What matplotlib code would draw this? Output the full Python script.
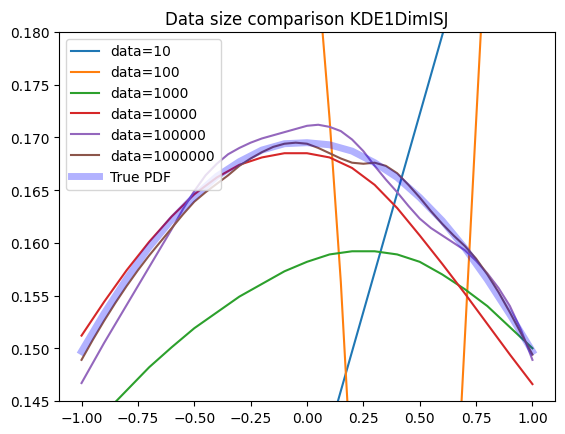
import numpy as np
import matplotlib
matplotlib.use("Agg")
import matplotlib.pyplot as plt

# values
x_tenth = [-1.0, -0.9, -0.8, -0.7, -0.6, -0.5, -0.4, -0.3, -0.2, -0.1, 0.0,
           0.1, 0.2, 0.3, 0.4, 0.5, 0.6, 0.7, 0.8, 0.9, 1.0]
x_half_tenth = [-1.00, -0.95, -0.90, -0.85, -0.80, -0.75, -0.70, -0.65, -0.60, -0.55, -0.50,
                -0.45, -0.40, -0.35, -0.30, -0.25, -0.20, -0.15, -0.10, -0.05, 0.00,
                0.05, 0.10, 0.15, 0.20, 0.25, 0.30, 0.35, 0.40, 0.45, 0.50,
                0.55, 0.60, 0.65, 0.70, 0.75, 0.80, 0.85, 0.90, 0.95, 1.00]

x_10 = [0.1, 0.2, 0.3, 0.4, 0.5, 0.6, 0.7]
kde_10 = [0.1422, 0.1497, 0.1572, 0.1647, 0.1722, 0.1797, 0.1872]

x_100 = [0.00, 0.05, 0.10, 0.15, 0.20, 0.30, 0.40, 0.50, 0.60, 0.65, 0.70, 0.75, 0.80, 0.85]
kde_100 = [0.198, 0.185, 0.1718, 0.1563, 0.1368, 0.105, 0.090, 0.092, 0.110,
           0.1304, 0.1509, 0.1715, 0.1916, 0.210]

kde_1000 = [0.1414, 0.1438, 0.1460, 0.1482, 0.1501, 0.1519, 0.1534, 0.1549, 0.1561, 0.1573, 0.1582,
            0.1589, 0.1592, 0.1592, 0.1589, 0.1582, 0.1570, 0.1556, 0.1540, 0.1520, 0.1500]

kde_10000 = [0.1512, 0.1544, 0.1574, 0.1601, 0.1625, 0.1646, 0.1662, 0.1674, 0.1681, 0.1685, 0.1685,
             0.1681, 0.1671, 0.1655, 0.1633, 0.1607, 0.1580, 0.1552, 0.1523, 0.1494, 0.1466]

kde_100000 = [0.1467, 0.1486, 0.1505, 0.1523, 0.1541, 0.1559, 0.1577, 0.1595, 0.1613, 0.1632, 0.1649,
              0.1664, 0.1675, 0.1684, 0.1690, 0.1695, 0.1699, 0.1702, 0.1705, 0.1708, 0.1711,
              0.1712, 0.1710, 0.1706, 0.1698, 0.1687, 0.1673, 0.1660, 0.1648, 0.1635, 0.1623,
              0.1614, 0.1607, 0.1600, 0.1593, 0.1583, 0.1571, 0.1557, 0.1540, 0.1517, 0.1489]

kde_1000000 = [0.1489, 0.1508, 0.1526, 0.1543, 0.1559, 0.1574, 0.1588, 0.1601, 0.1614, 0.1627, 0.1639,
               0.1648, 0.1656, 0.1664, 0.1673, 0.1680, 0.1686, 0.1691, 0.1694, 0.1695, 0.1694,
               0.1690, 0.1685, 0.1680, 0.1676, 0.1675, 0.1676, 0.1673, 0.1666, 0.1655, 0.1643,
               0.1630, 0.1618, 0.1607, 0.1597, 0.1585, 0.1570, 0.1553, 0.1534, 0.1514, 0.1494]

true_pdf = [0.1497, 0.1533, 0.1566, 0.1596, 0.1622, 0.1644, 0.1663, 0.1677, 0.1688, 0.1694, 0.1695,
            0.1693, 0.1687, 0.1676, 0.1662, 0.1643, 0.1621, 0.1595, 0.1565, 0.1532, 0.1497]

fig = plt.figure(figsize=(5.65, 4.35), dpi=100)
ax = fig.add_axes([0.1044, 0.0759, 0.8779, 0.8483])

ax.plot(x_10, kde_10, label="data=10")
ax.plot(x_100, kde_100, label="data=100")
ax.plot(x_tenth, kde_1000, label="data=1000")
ax.plot(x_tenth, kde_10000, label="data=10000")
ax.plot(x_half_tenth, kde_100000, label="data=100000")
ax.plot(x_half_tenth, kde_1000000, label="data=1000000")
ax.plot(x_tenth, true_pdf, color="b", lw=5, alpha=0.3, label="True PDF")

ax.set_xlim(-1.1, 1.1)
ax.set_ylim(0.145, 0.18)
ax.set_title("Data size comparison KDE1DimISJ")
ax.legend(loc="upper left")

fig.savefig("out.png", dpi=100)
